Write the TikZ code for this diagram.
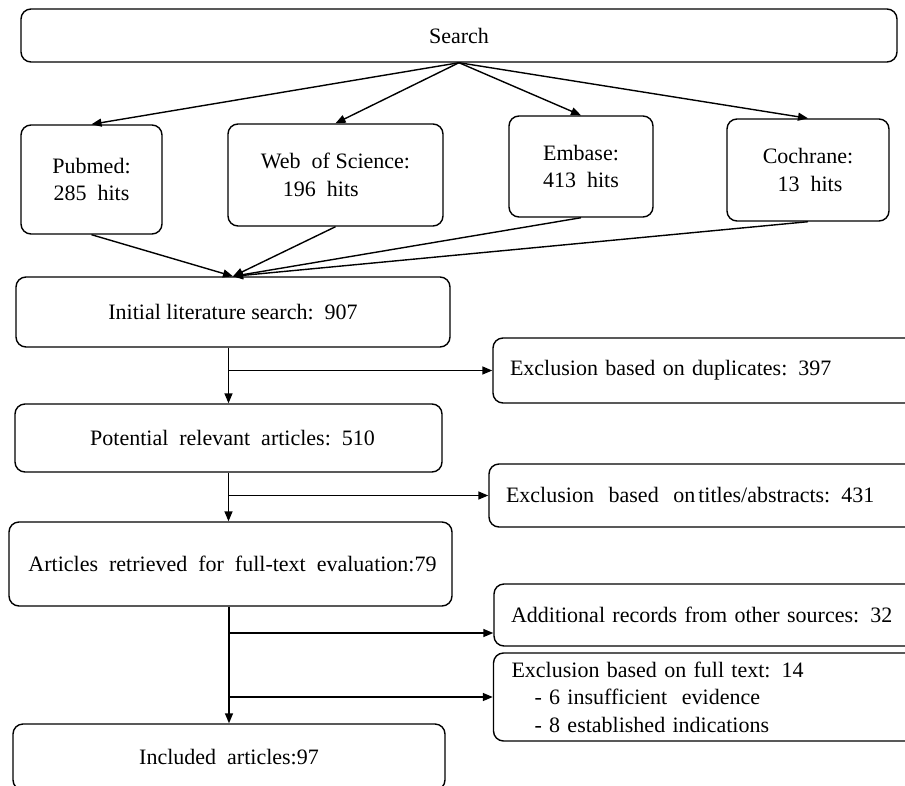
\documentclass[tikz,border=0pt]{standalone}
\usepackage{fontspec}
\setmainfont{Liberation Serif}
\usetikzlibrary{arrows.meta,calc}
\tikzset{
  box/.style={draw=black, line width=1.4pt, rounded corners=10pt, inner sep=0pt,
    font=\fontsize{22}{27.5}\selectfont, align=center},
  rbox/.style={box, align=left, inner xsep=17pt},
  arr/.style={draw=black, line width=1.4pt, -{Triangle[length=10pt,width=8pt]}},
}
\newcommand{\dsp}{\ \ }
\begin{document}
\begin{tikzpicture}[x=1pt,y=-1pt]
\useasboundingbox (0,0) rectangle (905,785);
\clip (0,0) rectangle (905,785);
% top
\node[box, minimum width=876pt, minimum height=53pt] (search) at (459,35.5) {Search};
\node[box, minimum width=141pt, minimum height=109pt] (pub) at (91.5,179.5) {Pubmed:\\285\dsp hits};
\node[box, minimum width=215pt, minimum height=102pt, align=left] (wos) at (335.5,175) {Web\dsp of Science:\\\hspace*{22pt}196\dsp hits};
\node[box, minimum width=144pt, minimum height=101pt] (emb) at (581,166.5) {Embase:\\413\dsp hits};
\node[box, minimum width=162pt, minimum height=102pt] (coc) at (808,170) {Cochrane:\\\hspace*{4pt}13\dsp hits};
% main column
\node[box, minimum width=434pt, minimum height=70pt] (init) at (233,312) {Initial literature search:\dsp 907};
\node[box, minimum width=427pt, minimum height=68pt] (pot) at (228.5,438) {\hspace*{8pt}Potential\dsp relevant\dsp articles:\dsp 510};
\node[box, minimum width=443pt, minimum height=84pt] (art) at (230.5,564) {\hspace*{4pt}Articles\dsp retrieved\dsp for\dsp full-text\dsp evaluation:79};
\node[box, minimum width=432pt, minimum height=66pt] (inc) at (229,757) {Included\dsp articles:97};
% right column
\node[rbox, minimum width=422pt, minimum height=65pt, text width=388pt] (dup) at (704,370.5) {Exclusion based on duplicates: 397};
\node[rbox, minimum width=426pt, minimum height=63pt, text width=392pt] (tit) at (702,495.5) {Exclusion\dsp based\dsp on\hspace{-0.2em} titles/abstracts: 431};
\node[rbox, minimum width=421pt, minimum height=62pt, text width=387pt] (add) at (704.5,615) {Additional records from other sources: 32};
\node[rbox, minimum width=421pt, minimum height=88pt, text width=386pt, inner xsep=18pt] (ft) at (704.5,697) {Exclusion based on full text: 14\\\hspace*{23pt}- 6 insufficient\dsp evidence\\\hspace*{23pt}- 8 established indications};
% connectors: search to sources
\draw[arr] (search.south) -- (pub.north);
\draw[arr] (search.south) -- (wos.north);
\draw[arr] (search.south) -- (emb.north);
\draw[arr] (search.south) -- (coc.north);
% sources to initial
\draw[arr] (pub.south) -- (init.north);
\draw[arr] (wos.south) -- (init.north);
\draw[arr] (emb.south) -- (init.north);
\draw[arr] (coc.south) -- (init.north);
% vertical flow
\draw[arr] (init.south -| pot.north) -- (pot.north);
\draw[arr] (pot.south) -- (pot.south |- art.north);
\draw[arr] (art.south -| inc.north) -- (inc.north);
% branches
\draw[arr] (dup.west -| pot.north) -- (dup.west);
\draw[arr] (tit.west -| pot.south) -- (tit.west);
\coordinate (addin) at ([yshift=-18pt]add.west);
\draw[arr] (addin -| inc.north) -- (addin);
\draw[arr] (ft.west -| inc.north) -- (ft.west);
\end{tikzpicture}
\end{document}
